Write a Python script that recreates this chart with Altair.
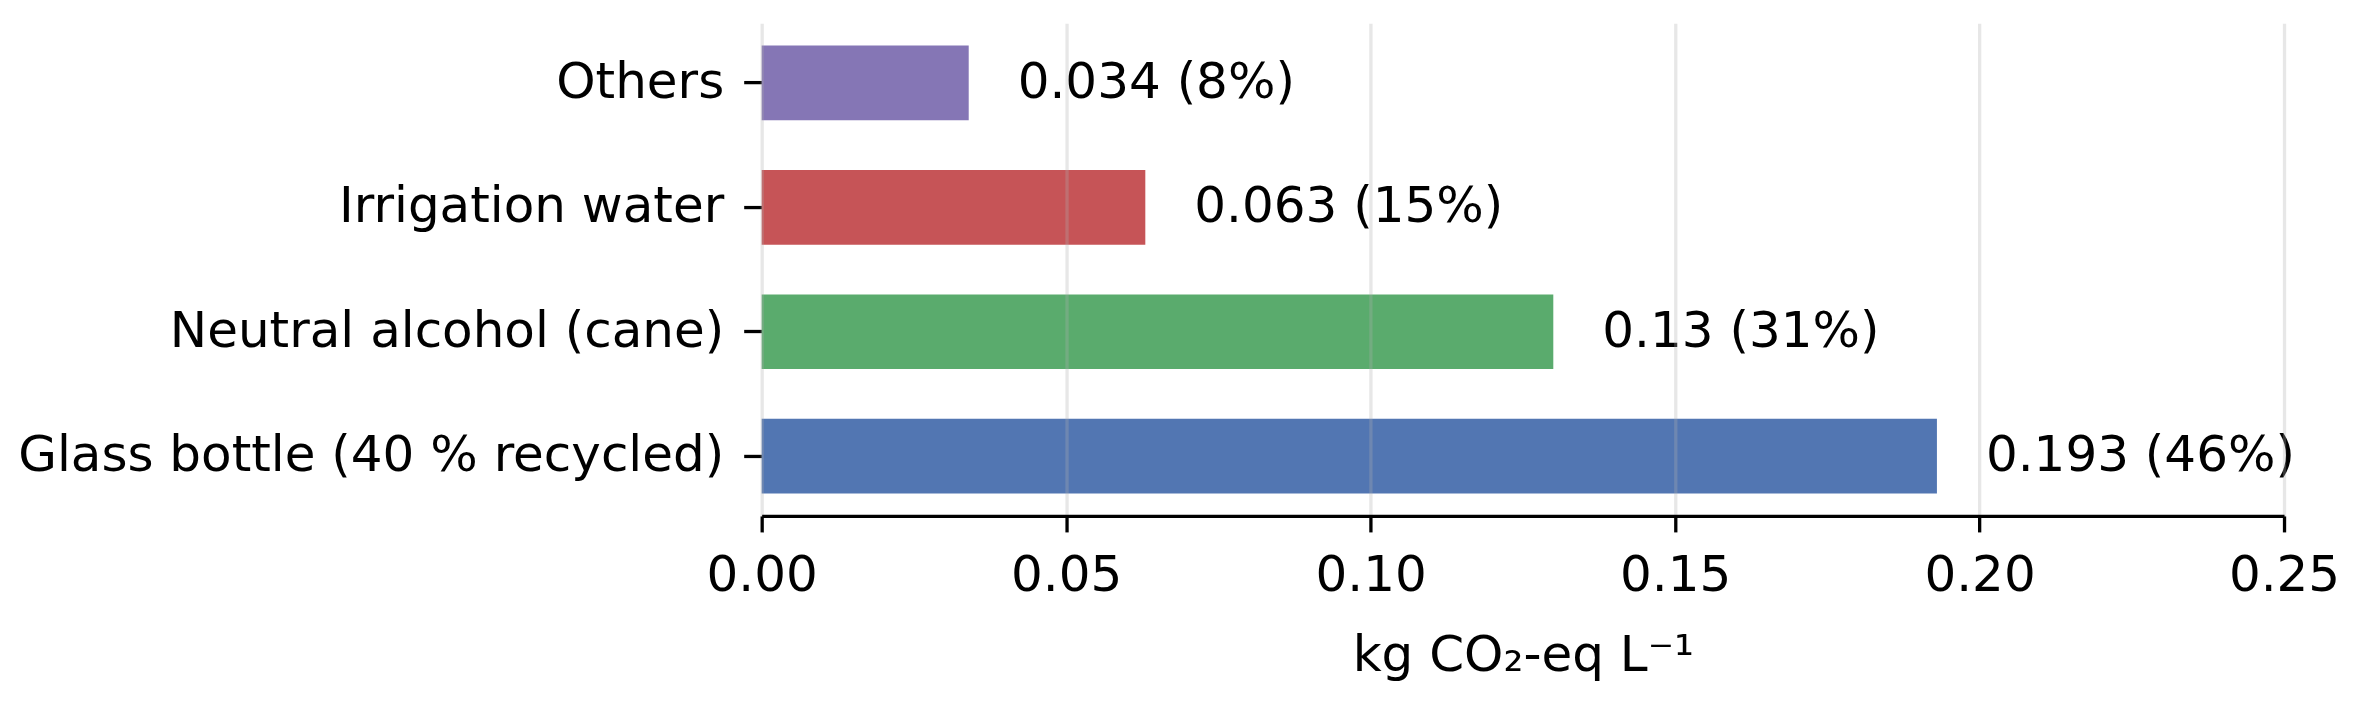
import pandas as pd
import altair as alt

categories = ["Others", "Irrigation water", "Neutral alcohol (cane)", "Glass bottle (40 % recycled)"]
values = [0.034, 0.063, 0.13, 0.193]
shares = [8, 15, 31, 46]
colors = ["#8172b3", "#c44e52", "#55a868", "#4c72b0"]

df = pd.DataFrame({
    "category": categories,
    "value": values,
    "label": [f"{v:g} ({p}%)" for v, p in zip(values, shares)],
})

FONT = "DejaVu Sans"

x_enc = alt.X(
    "value:Q",
    scale=alt.Scale(domain=[0, 0.25], nice=False, zero=True),
    axis=alt.Axis(
        values=[0, 0.05, 0.1, 0.15, 0.2, 0.25], format=".2f",
        title="kg CO₂-eq L⁻¹", titleFontSize=50, titleFont=FONT,
        titleFontWeight="normal", titleColor="black", titlePadding=30,
        labelFontSize=50, labelFont=FONT, labelColor="black", labelPadding=19,
        labelFlush=False, labelOverlap=False,
        tickSize=16, tickWidth=3.3, tickColor="black",
        domainColor="black", domainWidth=3.3,
        grid=True, gridColor="#b0b0b0", gridOpacity=0.3, gridWidth=3.3,
        zindex=1,
    ),
)
y_enc = alt.Y(
    "category:N", sort=categories,
    scale=alt.Scale(paddingInner=0.4, paddingOuter=0.18),
    axis=alt.Axis(
        title=None, domain=False, grid=False, labelLimit=2000,
        labelFontSize=50, labelFont=FONT, labelColor="black", labelPadding=20,
        tickSize=18, tickWidth=3.3, tickColor="black",
    ),
)

bars = alt.Chart(df).mark_bar(opacity=0.97).encode(
    x=x_enc,
    y=y_enc,
    color=alt.Color("category:N", scale=alt.Scale(domain=categories, range=colors), legend=None),
)

text = alt.Chart(df).mark_text(
    align="left", baseline="middle", dx=49, fontSize=50, font=FONT, color="black"
).encode(
    x="value:Q",
    y=alt.Y("category:N", sort=categories),
    text="label:N",
)

chart = alt.layer(bars, text).properties(
    width=1523, height=493,
    padding={"left": 9, "top": 15, "right": 5, "bottom": 5},
).configure_view(stroke=None)

chart.save("out.html", embed_options={"renderer": "svg", "actions": False})
